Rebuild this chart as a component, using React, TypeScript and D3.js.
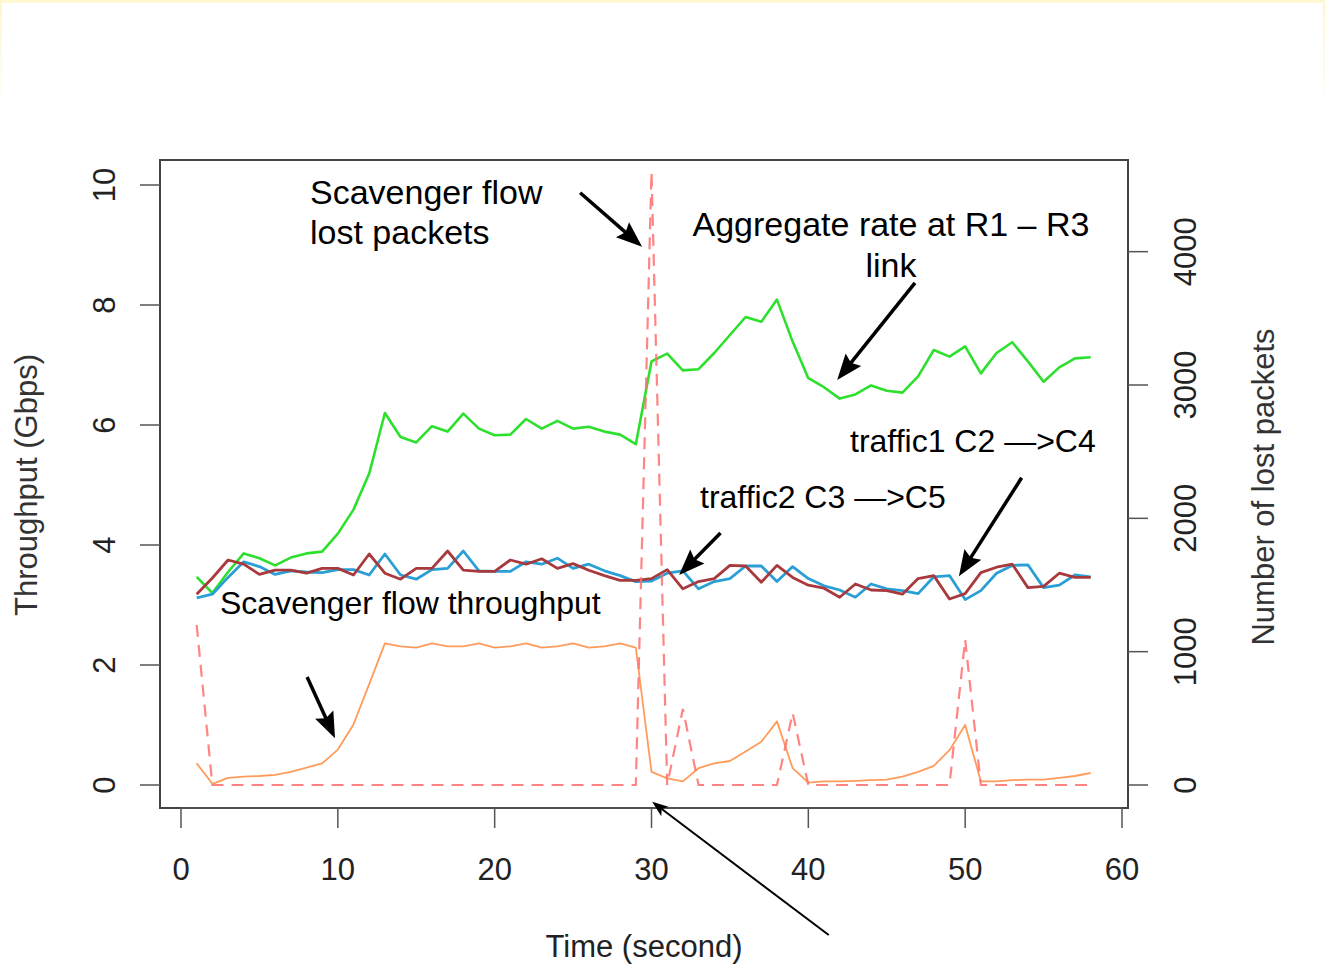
import * as d3 from "d3";

// seconds 1..58, one sample per second
const seconds = d3.range(1, 59);

// Gbps
const aggregate = [
  3.47, 3.2, 3.55, 3.86, 3.78, 3.66, 3.79, 3.86, 3.89, 4.19,
  4.59, 5.19, 6.2, 5.8, 5.71, 5.98, 5.89, 6.19, 5.94, 5.83,
  5.84, 6.1, 5.94, 6.07, 5.94, 5.97, 5.89, 5.84, 5.68, 7.06,
  7.19, 6.91, 6.93, 7.2, 7.5, 7.8, 7.72, 8.09, 7.39, 6.78,
  6.63, 6.44, 6.51, 6.66, 6.57, 6.54, 6.81, 7.25, 7.14, 7.31,
  6.86, 7.2, 7.38, 7.06, 6.72, 6.96, 7.11, 7.13,
];

const traffic1 = [
  3.12, 3.18, 3.46, 3.72, 3.64, 3.51, 3.57, 3.55, 3.54, 3.59,
  3.59, 3.5, 3.85, 3.5, 3.43, 3.59, 3.61, 3.9, 3.57, 3.56,
  3.56, 3.72, 3.68, 3.78, 3.61, 3.68, 3.57, 3.49, 3.39, 3.4,
  3.53, 3.57, 3.27, 3.39, 3.44, 3.65, 3.65, 3.39, 3.64, 3.44,
  3.32, 3.25, 3.13, 3.35, 3.27, 3.24, 3.19, 3.47, 3.49, 3.09,
  3.24, 3.53, 3.66, 3.67, 3.29, 3.33, 3.5, 3.47,
];

const traffic2 = [
  3.18, 3.45, 3.75, 3.68, 3.51, 3.58, 3.58, 3.53, 3.61, 3.61,
  3.5, 3.85, 3.53, 3.43, 3.61, 3.61, 3.9, 3.58, 3.56, 3.56,
  3.75, 3.68, 3.77, 3.61, 3.69, 3.58, 3.49, 3.41, 3.41, 3.44,
  3.59, 3.27, 3.39, 3.44, 3.66, 3.65, 3.38, 3.66, 3.46, 3.33,
  3.28, 3.13, 3.35, 3.25, 3.24, 3.18, 3.44, 3.49, 3.1, 3.19,
  3.54, 3.63, 3.68, 3.29, 3.31, 3.53, 3.46, 3.46,
];

const scavenger = [
  0.36, 0.02, 0.12, 0.14, 0.15, 0.17, 0.22, 0.29, 0.36, 0.59,
  1.01, 1.68, 2.36, 2.31, 2.29, 2.36, 2.31, 2.31, 2.36, 2.29,
  2.31, 2.36, 2.29, 2.31, 2.36, 2.29, 2.31, 2.36, 2.29, 0.22,
  0.11, 0.06, 0.28, 0.36, 0.4, 0.56, 0.72, 1.06, 0.28, 0.04,
  0.06, 0.06, 0.07, 0.08, 0.09, 0.14, 0.22, 0.32, 0.58, 1.0,
  0.06, 0.06, 0.08, 0.09, 0.09, 0.12, 0.15, 0.2,
];

// number of lost packets (right axis)
const lostPackets = [
  1200, 0, 0, 0, 0, 0, 0, 0, 0, 0,
  0, 0, 0, 0, 0, 0, 0, 0, 0, 0,
  0, 0, 0, 0, 0, 0, 0, 0, 0, 4600,
  0, 570, 0, 0, 0, 0, 0, 0, 540, 0,
  0, 0, 0, 0, 0, 0, 0, 0, 0, 1090,
  0, 0, 0, 0, 0, 0, 0, 0,
];

const xTicks = [0, 10, 20, 30, 40, 50, 60];
const yTicks = [0, 2, 4, 6, 8, 10];
const y2Ticks = [0, 1000, 2000, 3000, 4000];

const W = 1325;
const H = 972;
const box = { left: 160, top: 160, right: 1128, bottom: 808 };

const x = d3.scaleLinear().domain([0, 60]).range([181, 1122]);
const y = d3.scaleLinear().domain([0, 10]).range([785, 185]);
const y2 = d3.scaleLinear().domain([0, 4500]).range([785, 185]);

const FONT = "'Liberation Sans', Arial, Helvetica, sans-serif";

// arrows in data units: [t0, v0, t1, v1, thick]
const arrows: [number, number, number, number, boolean][] = [
  [25.45, 9.87, 29.4, 8.97, true],
  [46.8, 8.37, 41.84, 6.75, true],
  [34.4, 4.2, 31.76, 3.5, true],
  [53.6, 5.12, 49.6, 3.48, true],
  [8.04, 1.8, 9.82, 0.78, true],
  [41.3, -2.5, 30.04, -0.28, false],
];

function Arrow({ a }: { a: [number, number, number, number, boolean] }) {
  const [t0, v0, t1, v1, thick] = a;
  const x0 = x(t0), y0 = y(v0), x1 = x(t1), y1 = y(v1);
  const dx = x1 - x0, dy = y1 - y0;
  const len = Math.hypot(dx, dy);
  const ux = dx / len, uy = dy / len;
  const hl = thick ? 26 : 16;
  const hw = thick ? 10 : 6;
  const bx = x1 - ux * hl, by = y1 - uy * hl;
  const pts = [
    [x1, y1],
    [bx - uy * hw, by + ux * hw],
    [bx + ux * 4 , by + uy * 4],
    [bx + uy * hw, by - ux * hw],
  ];
  return (
    <g>
      <line x1={x0} y1={y0} x2={bx + ux * 6} y2={by + uy * 6} stroke="#000" strokeWidth={thick ? 3.5 : 2} />
      <polygon points={pts.map((p) => p.join(",")).join(" ")} fill="#000" />
    </g>
  );
}

export default function App() {
  const line = (vals: number[], scale: d3.ScaleLinear<number, number>) =>
    d3.line<number>().x((_, i) => x(seconds[i])).y((d) => scale(d))(vals) || "";

  return (
    <svg width={W} height={H} style={{ position: "absolute", left: 0, top: 0, background: "#fff" }}>
      <defs>
        <linearGradient id="edge" x1="0" y1="0" x2="0" y2="1">
          <stop offset="0" stopColor="#fff6cc" />
          <stop offset="1" stopColor="#ffffff" />
        </linearGradient>
      </defs>
      <rect x={0} y={0} width={W} height={H} fill="#fff" />
      <rect x={0} y={0} width={W} height={3} fill="#fff8d2" />
      <rect x={0} y={0} width={2} height={115} fill="url(#edge)" />
      <rect x={W - 2} y={0} width={2} height={115} fill="url(#edge)" />

      {/* series */}
      <path d={line(aggregate, y)} fill="none" stroke="#2ee02e" strokeWidth={2.6} strokeLinejoin="round" />
      <path d={line(traffic1, y)} fill="none" stroke="#2a9fd6" strokeWidth={2.8} strokeLinejoin="round" />
      <path d={line(traffic2, y)} fill="none" stroke="#a83a3e" strokeWidth={2.8} strokeLinejoin="round" />
      <path d={line(scavenger, y)} fill="none" stroke="#ff9c5c" strokeWidth={1.8} strokeLinejoin="round" />
      <path d={line(lostPackets, y2)} fill="none" stroke="#ff6e6e" strokeOpacity={0.85} strokeWidth={2.2} strokeDasharray="12,8" />

      {/* box */}
      <rect x={box.left} y={box.top} width={box.right - box.left} height={box.bottom - box.top}
        fill="none" stroke="#444" strokeWidth={2} />

      {/* bottom axis */}
      <line x1={x(0)} x2={x(60)} y1={box.bottom} y2={box.bottom} stroke="#555" strokeWidth={1.5} />
      {xTicks.map((t) => (
        <g key={t}>
          <line x1={x(t)} x2={x(t)} y1={box.bottom} y2={828} stroke="#555" strokeWidth={1.5} />
          <text x={x(t)} y={880} textAnchor="middle" fontFamily={FONT} fontSize={31} fill="#222">{t}</text>
        </g>
      ))}
      <text x={644} y={957} textAnchor="middle" fontFamily={FONT} fontSize={31} fill="#222">Time (second)</text>

      {/* left axis */}
      {yTicks.map((v) => (
        <g key={v}>
          <line x1={140} x2={box.left} y1={y(v)} y2={y(v)} stroke="#555" strokeWidth={1.5} />
          <text transform={`translate(115,${y(v)}) rotate(-90)`} textAnchor="middle" fontFamily={FONT} fontSize={31} fill="#222">{v}</text>
        </g>
      ))}
      <text transform={`translate(37,485) rotate(-90)`} textAnchor="middle" fontFamily={FONT} fontSize={31} fill="#333">Throughput (Gbps)</text>

      {/* right axis */}
      {y2Ticks.map((v) => (
        <g key={v}>
          <line x1={box.right} x2={1148} y1={y2(v)} y2={y2(v)} stroke="#555" strokeWidth={1.5} />
          <text transform={`translate(1196,${y2(v)}) rotate(-90)`} textAnchor="middle" fontFamily={FONT} fontSize={31} fill="#222">{v}</text>
        </g>
      ))}
      <text transform={`translate(1274,487) rotate(-90)`} textAnchor="middle" fontFamily={FONT} fontSize={31} fill="#333">Number of lost packets</text>

      {/* annotations */}
      <g fontFamily={FONT} fill="#000">
        <text x={310} y={204} fontSize={34}>Scavenger flow</text>
        <text x={310} y={244} fontSize={34}>lost packets</text>
        <text x={891} y={236} fontSize={34} textAnchor="middle">Aggregate rate at R1 – R3</text>
        <text x={891} y={277} fontSize={34} textAnchor="middle">link</text>
        <text x={850} y={452} fontSize={32}>traffic1 C2 —&gt;C4</text>
        <text x={700} y={508} fontSize={32}>traffic2 C3 —&gt;C5</text>
        <text x={220} y={614} fontSize={32}>Scavenger flow throughput</text>
      </g>
      {arrows.map((a, i) => (
        <Arrow key={i} a={a} />
      ))}
    </svg>
  );
}
